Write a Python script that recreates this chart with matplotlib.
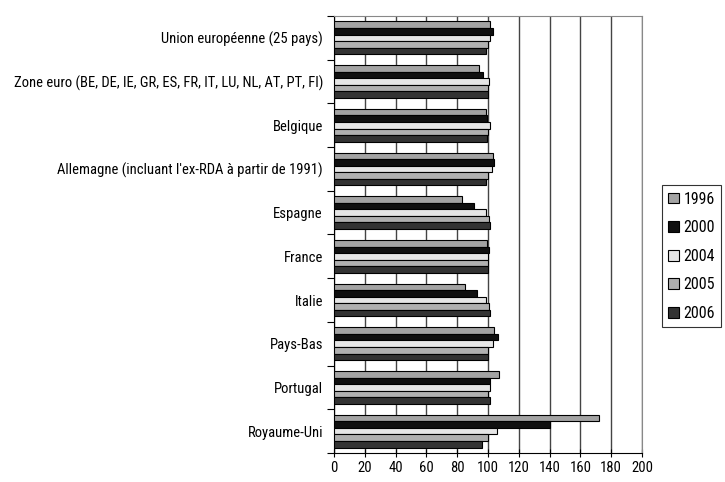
import numpy as np
import matplotlib
matplotlib.use("Agg")
import matplotlib.pyplot as plt

plt.rcParams['font.family'] = ['Roboto Condensed', 'DejaVu Sans']

countries = [
    "Union européenne (25 pays)",
    "Zone euro (BE, DE, IE, GR, ES, FR, IT, LU, NL, AT, PT, FI)",
    "Belgique",
    "Allemagne (incluant l'ex-RDA à partir de 1991)",
    "Espagne",
    "France",
    "Italie",
    "Pays-Bas",
    "Portugal",
    "Royaume-Uni",
]
years = ["1996", "2000", "2004", "2005", "2006"]

v1996 = [101, 94, 99, 103, 83, 99.5, 85, 104, 107, 172]
v2000 = [103, 97, 99.5, 104, 91, 100.5, 93, 106.5, 101, 140]
v2004 = [101, 100.5, 101, 102.5, 99, 100, 99, 103.5, 101.5, 106]
v2005 = [100, 100, 100, 100, 100.5, 100, 100.5, 100, 100, 100]
v2006 = [99, 100, 99.5, 99, 101, 100, 101, 100, 101, 96]
series = [v1996, v2000, v2004, v2005, v2006]
colours = ["#a3a3a3", "#101010", "#e6e6e6", "#b0b0b0", "#333333"]

fig = plt.figure(figsize=(7.25, 4.82), dpi=100)
ax = fig.add_axes([0.4607, 0.0602, 0.4248, 0.9066])

n = len(countries)
centres = np.arange(n)
h = 0.15
for i, (vals, col, yr) in enumerate(zip(series, colours, years)):
    ax.barh(centres - 2 * h + i * h, vals, height=h, color=col,
            edgecolor="black", linewidth=0.8, label=yr, zorder=3)

ax.set_xlim(0, 200)
ax.set_ylim(n - 0.5, -0.5)
ax.set_xticks(np.arange(0, 201, 20))
ax.tick_params(axis="x", direction="inout", length=6, labelsize=10.5, pad=3)

ax.set_yticks(np.arange(n + 1) - 0.5)
ax.set_yticklabels([])
ax.tick_params(axis="y", which="major", direction="out", length=5)
ax.set_yticks(centres, minor=True)
ax.set_yticklabels(countries, minor=True, fontsize=10.5)
ax.tick_params(axis="y", which="minor", length=0, pad=8)

ax.grid(axis="x", color="#444444", linewidth=1.0, zorder=0)
for side in ["top", "right"]:
    ax.spines[side].set_color("#888888")
ax.spines["left"].set_color("black")
ax.spines["bottom"].set_color("black")

leg = ax.legend(loc="center left", bbox_to_anchor=(1.065, 0.45), frameon=True,
                fancybox=False, edgecolor="black", fontsize=11.5,
                handlelength=0.65, handleheight=0.65, handletextpad=0.3,
                labelspacing=0.85, borderpad=0.4, borderaxespad=0)
leg.get_frame().set_linewidth(0.8)

fig.savefig("out.png", dpi=100)
